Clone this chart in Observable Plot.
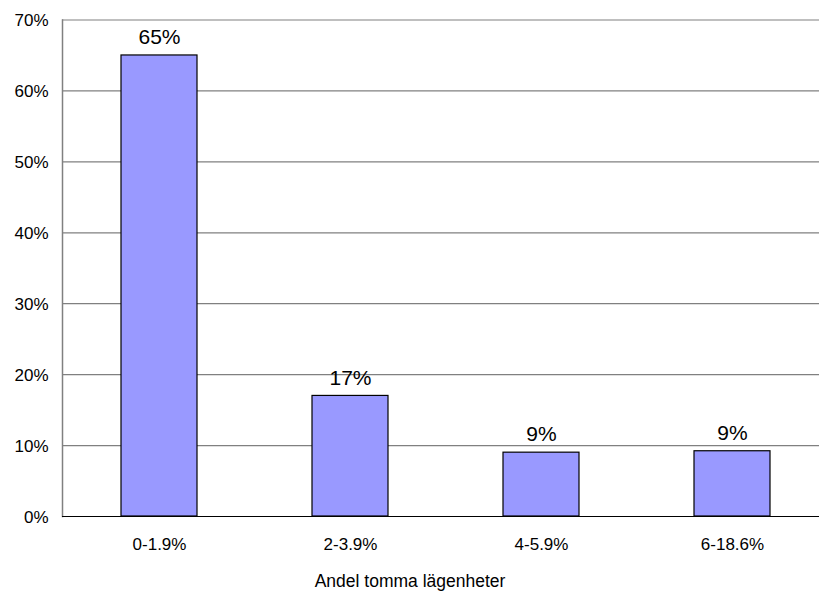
<!DOCTYPE html>
<html>
<head>
<meta charset="utf-8">
<script src="https://cdn.jsdelivr.net/npm/d3@7"></script>
<script src="https://cdn.jsdelivr.net/npm/@observablehq/plot@0.6"></script>
<style>
html, body { margin: 0; padding: 0; background: #fff; overflow: hidden; }
svg { display: block; }
</style>
</head>
<body>
<div id="chart"></div>
<script>
const categories = ["0-1.9%", "2-3.9%", "4-5.9%", "6-18.6%"];
const values = [65.0, 17.0, 9.0, 9.2];
const labels = ["65%", "17%", "9%", "9%"];
const yTicks = [0, 10, 20, 30, 40, 50, 60, 70];
const xTitle = "Andel tomma lägenheter";

const data = categories.map((c, i) => ({cat: c, value: values[i], label: labels[i]}));

const chart = Plot.plot({
  width: 819,
  height: 594,
  marginTop: 19.5,
  marginBottom: 78,
  marginLeft: 62,
  marginRight: 0,
  style: {fontFamily: "'Liberation Sans', Arial, sans-serif", background: "#fff"},
  x: {domain: categories, range: [63, 828], paddingInner: 0.6, paddingOuter: 0.3, label: null, axis: null},
  y: {domain: [0, 70], range: [516, 19.5], label: null, axis: null},
  marks: [
    Plot.ruleY(yTicks.filter(d => d > 0), {stroke: "#808080", strokeWidth: 1.2, strokeOpacity: 1}),
    Plot.barY(data, {x: "cat", y: "value", fill: "#9999FF", stroke: "#000", strokeWidth: 1.2}),
    Plot.frame({anchor: "left", stroke: "#808080", strokeWidth: 1.5}),
    Plot.ruleY([0], {stroke: "#000", strokeWidth: 1.2}),
    Plot.text(yTicks, {x: null, frameAnchor: "left", y: d => d, text: d => d + "%", dx: -14, dy: 1, textAnchor: "end", fontSize: 17, fill: "#000"}),
    Plot.text(data, {x: "cat", y: 0, text: "cat", dy: 28, fontSize: 17, fill: "#000"}),
    Plot.text(data, {x: "cat", y: "value", text: "label", dy: -18, fontSize: 21, fill: "#000"}),
    Plot.text([xTitle], {frameAnchor: "bottom", x: null, text: d => d, dy: 70, dx: -31, fontSize: 17.5, fill: "#000"})
  ]
});
document.getElementById("chart").appendChild(chart);
</script>
</body>
</html>
